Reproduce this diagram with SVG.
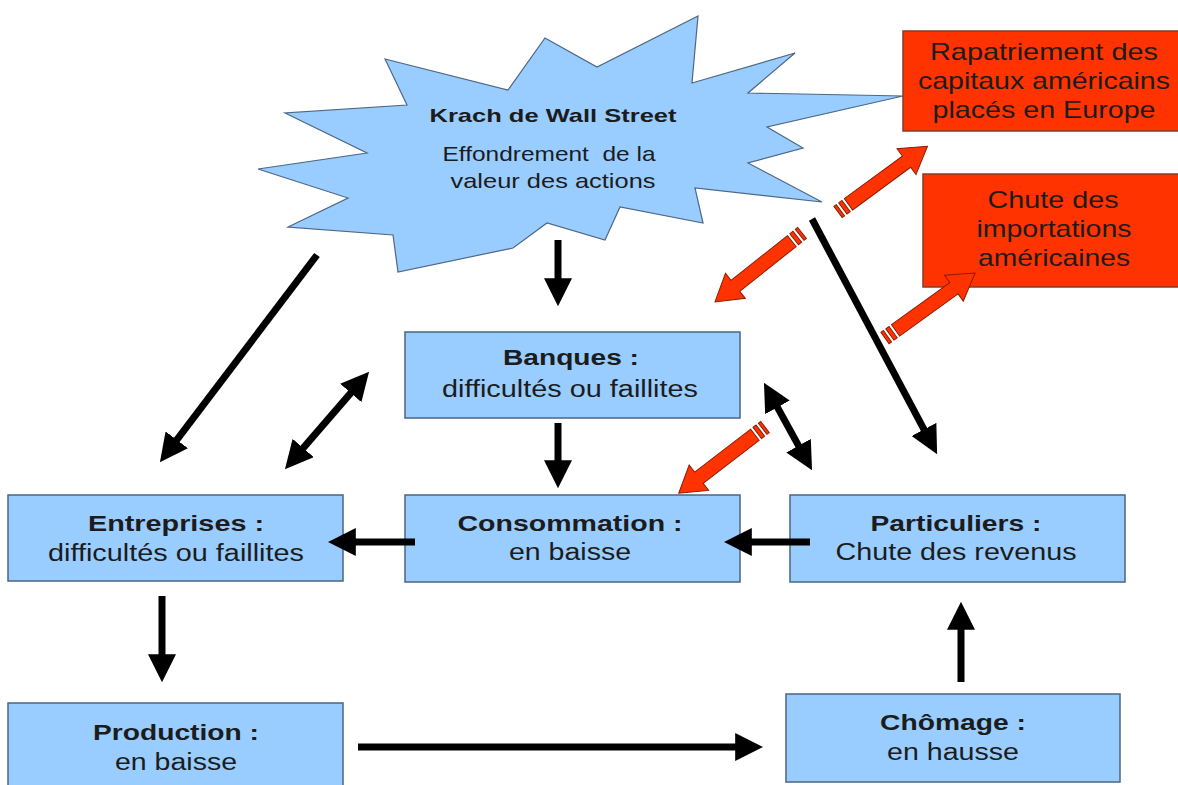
<svg xmlns="http://www.w3.org/2000/svg" xmlns:xlink="http://www.w3.org/1999/xlink" width="1178" height="785" viewBox="0 0 1178 785">
<style>
text{font-family:"Liberation Sans",Arial,sans-serif;fill:#1c1c1c;text-anchor:middle}
.b{font-weight:bold;font-size:22px}
.r{font-size:23px}
.sb{font-weight:bold;font-size:19px}
.sr{font-size:21px}
.rt{font-size:24px}
.blue{fill:#99ccff;stroke:#4a6684;stroke-width:1.5}
.red{fill:#ff3300;stroke:#8a3a2a;stroke-width:1.5}
.arr{stroke:#000;stroke-width:7;fill:none;marker-end:url(#ah)}
.dbl{marker-start:url(#ah)}
</style>
<defs>
<marker id="ah" viewBox="0 0 10 10" refX="1" refY="5" markerWidth="4" markerHeight="4" orient="auto-start-reverse" markerUnits="strokeWidth">
<path d="M0,0 L10,5 L0,10 Z" fill="#000"/>
</marker>
<g id="redArrow">
<path d="M0,-7 H3 V7 H0 Z M6,-7 H10 V7 H6 Z M13,-7 H85 V-16 L111,0 L85,16 V7 H13 Z" fill="#ff3300" stroke="#8b1c05" stroke-width="1"/>
</g>
</defs>
<rect width="1178" height="785" fill="#fff"/>

<g id="krach">
<polygon points="385,59 508,90 545,38 597,67 698,16 692,83 795,53 748,93 903,96 767,127 803,148 748,163 822,202 695,188 703,223 620,207 605,240 547,223 513,248 398,272 393,235 288,227 348,198 258,169 367,153 285,113 407,105" fill="#99ccff" stroke="#4d6785" stroke-width="1.2" stroke-linejoin="miter"/>
<text class="sb" x="553" y="122" textLength="247" lengthAdjust="spacingAndGlyphs">Krach de Wall Street</text>
<text class="sr" x="549" y="161" textLength="213" lengthAdjust="spacingAndGlyphs">Effondrement&#160; de la</text>
<text class="sr" x="553" y="188" textLength="205" lengthAdjust="spacingAndGlyphs">valeur des actions</text>
</g>

<g id="rapatriement">
<rect class="red" x="903" y="31" width="276" height="100"/>
<text class="rt" x="1044" y="60" textLength="228" lengthAdjust="spacingAndGlyphs">Rapatriement des</text>
<text class="rt" x="1044" y="89" textLength="252" lengthAdjust="spacingAndGlyphs">capitaux américains</text>
<text class="rt" x="1044" y="118" textLength="223" lengthAdjust="spacingAndGlyphs">placés en Europe</text>
</g>

<g id="importations">
<rect class="red" x="923" y="174" width="256" height="113"/>
<text class="rt" x="1053" y="208" textLength="131" lengthAdjust="spacingAndGlyphs">Chute des</text>
<text class="rt" x="1054" y="237" textLength="155" lengthAdjust="spacingAndGlyphs">importations</text>
<text class="rt" x="1054" y="266" textLength="152" lengthAdjust="spacingAndGlyphs">américaines</text>
</g>

<g id="banques">
<rect class="blue" x="405" y="332" width="335" height="86"/>
<text class="b" x="571" y="365" textLength="136" lengthAdjust="spacingAndGlyphs">Banques :</text>
<text class="r" x="570" y="397" textLength="256" lengthAdjust="spacingAndGlyphs">difficultés ou faillites</text>
</g>

<g id="consommation">
<rect class="blue" x="405" y="495" width="335" height="87"/>
<text class="b" x="570" y="531" textLength="225" lengthAdjust="spacingAndGlyphs">Consommation :</text>
<text class="r" x="570" y="560" textLength="122" lengthAdjust="spacingAndGlyphs">en baisse</text>
</g>

<g id="entreprises">
<rect class="blue" x="8" y="495" width="335" height="86"/>
<text class="b" x="176" y="531" textLength="176" lengthAdjust="spacingAndGlyphs">Entreprises :</text>
<text class="r" x="176" y="561" textLength="256" lengthAdjust="spacingAndGlyphs">difficultés ou faillites</text>
</g>

<g id="particuliers">
<rect class="blue" x="790" y="495" width="335" height="87"/>
<text class="b" x="956" y="531" textLength="171" lengthAdjust="spacingAndGlyphs">Particuliers :</text>
<text class="r" x="956" y="560" textLength="241" lengthAdjust="spacingAndGlyphs">Chute des revenus</text>
</g>

<g id="production">
<rect class="blue" x="8" y="703" width="335" height="90"/>
<text class="b" x="176" y="740" textLength="166" lengthAdjust="spacingAndGlyphs">Production :</text>
<text class="r" x="176" y="770" textLength="122" lengthAdjust="spacingAndGlyphs">en baisse</text>
</g>

<g id="chomage">
<rect class="blue" x="786" y="694" width="334" height="88"/>
<text class="b" x="953" y="730" textLength="146" lengthAdjust="spacingAndGlyphs">Chômage :</text>
<text class="r" x="953" y="760" textLength="132" lengthAdjust="spacingAndGlyphs">en hausse</text>
</g>

<g id="connectors">
<line class="arr" x1="558" y1="240" x2="558" y2="281"/>
<line class="arr" x1="317" y1="255" x2="175.1" y2="442.1"/>
<line class="arr dbl" x1="301.4" y1="450.1" x2="352.6" y2="390.9"/>
<line class="arr" x1="558" y1="423" x2="558" y2="463"/>
<line class="arr" x1="415" y1="542" x2="353" y2="542"/>
<line class="arr" x1="810" y1="542" x2="749" y2="542"/>
<line class="arr" x1="162" y1="596" x2="162" y2="657"/>
<line class="arr" x1="358" y1="747" x2="738" y2="747"/>
<line class="arr" x1="961" y1="682" x2="961" y2="627"/>
<line class="arr" x1="812" y1="219" x2="925.3" y2="431.9"/>
<line class="arr dbl" x1="776.1" y1="404.9" x2="799.9" y2="448.1"/>
<use xlink:href="#redArrow" transform="translate(838,212) rotate(-36.3)"/>
<use xlink:href="#redArrow" transform="translate(802,233) rotate(141.6)"/>
<use xlink:href="#redArrow" transform="translate(885,338) rotate(-35.8)"/>
<use xlink:href="#redArrow" transform="translate(765,427) rotate(142.5) scale(0.98,1)"/>
</g>
</svg>
